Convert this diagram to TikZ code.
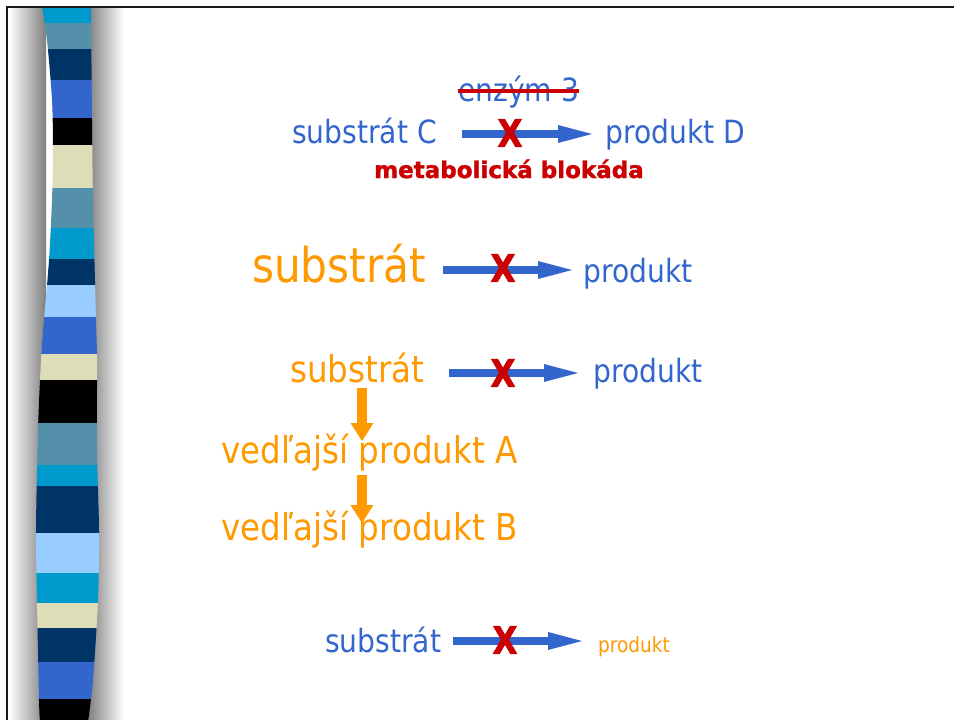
\documentclass[tikz,border=0pt]{standalone}
\usepackage{fontspec}
\setmainfont{DejaVu Sans}[FakeStretch=0.88]
\newfontfamily\heavyfont{DejaVu Sans Bold}[FakeBold=1.6]
\usetikzlibrary{arrows.meta}

\definecolor{pathblue}{HTML}{3366CC}
\definecolor{sideorange}{HTML}{FF9900}
\definecolor{blockred}{HTML}{CC0000}
\definecolor{bandcyan}{HTML}{0099CC}
\definecolor{bandsteel}{HTML}{5590AA}
\definecolor{bandnavy}{HTML}{003366}
\definecolor{bandblue}{HTML}{3366CC}
\definecolor{bandsky}{HTML}{99CCFF}
\definecolor{bandcream}{HTML}{DDDDB8}

\tikzset{
  lbl/.style={inner sep=0pt, anchor=base west},
  fs/.style={font=\fontsize{#1}{#1}\selectfont},
  blockx/.style={inner sep=0pt, anchor=center, text=blockred, xscale=0.86,
    font=\heavyfont\fontsize{38}{38}\selectfont},
  bluearrow/.style={draw=pathblue, line width=8pt,
    -{Triangle[length=34pt,width=18pt,line width=0pt]}},
  sidearrow/.style={draw=sideorange, line width=10pt,
    -{Triangle[length=18pt,width=23pt,line width=0pt]}},
}

\begin{document}
\begin{tikzpicture}[x=1pt,y=-1pt]
\useasboundingbox (0,0) rectangle (954,720);
\fill[white] (0,0) rectangle (954,720);

% soft shadows on either side of the ribbon
\shade[left color=white, right color=black!50] (9,8) rectangle (46,720);
\shade[left color=black!50, right color=white] (88,8) rectangle (124,720);

% striped ribbon
\begin{scope}
  \clip plot[smooth] coordinates {(42,7) (47,40) (52,100) (53,150) (52,200) (49,260) (44,320) (41,360) (38,430) (36,530) (37,600) (39,700) (40,722)}
    -- plot[smooth] coordinates {(88,722) (93,680) (98,600) (99,530) (97,450) (97,360) (96,320) (93,200) (92,120) (91,7)} -- cycle;
  \fill[bandcyan]  (30,7)   rectangle (110,23);
  \fill[bandsteel] (30,23)  rectangle (110,49);
  \fill[bandnavy]  (30,49)  rectangle (110,80);
  \fill[bandblue]  (30,80)  rectangle (110,118);
  \fill[black]     (30,118) rectangle (110,145);
  \fill[bandcream] (30,145) rectangle (110,188);
  \fill[bandsteel] (30,188) rectangle (110,228);
  \fill[bandcyan]  (30,228) rectangle (110,259);
  \fill[bandnavy]  (30,259) rectangle (110,285);
  \fill[bandsky]   (30,285) rectangle (110,317);
  \fill[bandblue]  (30,317) rectangle (110,354);
  \fill[bandcream] (30,354) rectangle (110,380);
  \fill[black]     (30,380) rectangle (110,423);
  \fill[bandsteel] (30,423) rectangle (110,465);
  \fill[bandcyan]  (30,465) rectangle (110,486);
  \fill[bandnavy]  (30,486) rectangle (110,533);
  \fill[bandsky]   (30,533) rectangle (110,573);
  \fill[bandcyan]  (30,573) rectangle (110,603);
  \fill[bandcream] (30,603) rectangle (110,628);
  \fill[bandnavy]  (30,628) rectangle (110,662);
  \fill[bandblue]  (30,662) rectangle (110,699);
  \fill[black]     (30,699) rectangle (110,722);
\end{scope}

% slide frame
\draw[line width=2pt, black!90] (7,721) -- (7,7) -- (955,7);

% --- blocked reaction C -> D
\node[lbl, fs=32, text=pathblue] (enz) at (458,101) {enzým 3};
\draw[blockred, line width=4pt] ([yshift=1pt]enz.west) -- ([yshift=1pt]enz.east);
\node[lbl, fs=32, text=pathblue] (subC) at (292,143) {substrát C};
\node[lbl, fs=32, text=pathblue] (prodD) at (605,143) {produkt D};
\coordinate (a1s) at (462,134);
\coordinate (a1e) at (592,134);
\draw[bluearrow] (a1s) -- (a1e);
\node[blockx] (x1) at (510,133) {X};
\node[lbl, text=blockred, font=\heavyfont\fontsize{23}{23}\selectfont] (blk) at (374,178) {metabolická blokáda};

% --- accumulated substrate
\node[lbl, fs=48, text=sideorange] (sub2) at (252,282) {substrát};
\node[lbl, fs=32, text=pathblue] (prod2) at (583,282) {produkt};
\coordinate (a2s) at (443,270);
\coordinate (a2e) at (572,270);
\draw[bluearrow] (a2s) -- (a2e);
\node[blockx] (x2) at (503,268) {X};

% --- side pathway
\node[lbl, fs=37, text=sideorange] (sub3) at (290,382) {substrát};
\node[lbl, fs=32, text=pathblue] (prod3) at (593,382) {produkt};
\coordinate (a3s) at (449,373);
\coordinate (a3e) at (578,373);
\draw[bluearrow] (a3s) -- (a3e);
\node[blockx] (x3) at (503,373) {X};
\node[lbl, fs=37, text=sideorange] (sideA) at (221,463) {vedľajší produkt A};
\node[lbl, fs=37, text=sideorange] (sideB) at (221,540) {vedľajší produkt B};
\coordinate (d1s) at (362,388);
\coordinate (d1e) at (362,441);
\coordinate (d2s) at (362,475);
\coordinate (d2e) at (362,523);
\draw[sidearrow] (d1s) -- (d1e);
\draw[sidearrow] (d2s) -- (d2e);

% --- product deficiency
\node[lbl, fs=32, text=pathblue] (sub4) at (325,652) {substrát};
\node[lbl, fs=21, text=sideorange] (prod4) at (598,652) {produkt};
\coordinate (a4s) at (453,641);
\coordinate (a4e) at (582,641);
\draw[bluearrow] (a4s) -- (a4e);
\node[blockx] (x4) at (505,640) {X};
\end{tikzpicture}
\end{document}
